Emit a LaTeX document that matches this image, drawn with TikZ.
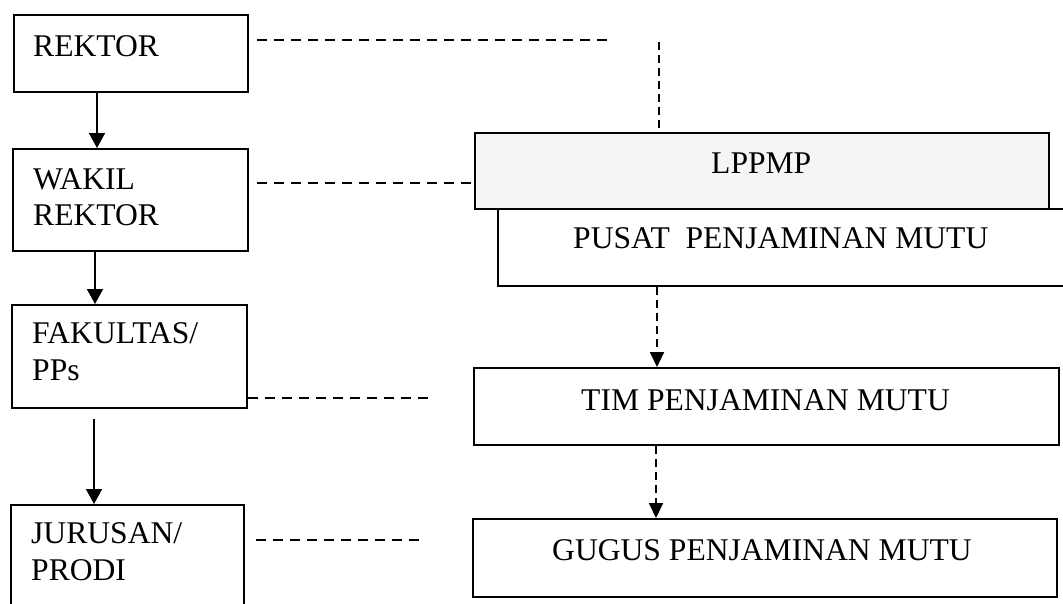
\documentclass[tikz,border=0pt]{standalone}
\usepackage{fontspec}
\setmainfont{Liberation Serif}
\usetikzlibrary{arrows.meta,calc}
\begin{document}
\begin{tikzpicture}[x=1pt,y=-1pt,
  box/.style={draw=black, line width=2.2pt, inner sep=0pt, anchor=north west},
  lbl/.style={inner sep=0pt, anchor=base west, font=\fontsize{31.6}{36.5}\selectfont},
  solidarr/.style={draw=black, line width=1.7pt, -{Triangle[width=16pt,length=15pt]}},
  hd/.style={draw=black, line width=2.6pt, dash pattern=on 10pt off 7pt},
  vd/.style={draw=black, line width=2.1pt, dash pattern=on 8pt off 5pt},
  dasharr/.style={vd, -{Triangle[width=14pt,length=15pt]}}
]
\useasboundingbox (0,0) rectangle (1063,603);
\clip (0,0) rectangle (1063,603);

% left column: university hierarchy
\node[box, minimum width=234pt, minimum height=77pt]  (rektor) at (13,14) {};
\node[box, minimum width=235pt, minimum height=102pt] (wakil)  at (12,148) {};
\node[box, minimum width=235pt, minimum height=103pt] (fak)    at (11,304) {};
\node[box, minimum width=233pt, minimum height=112pt] (jur)    at (10,504) {};

\node[lbl] (trektor) at (33,56)  {REKTOR};
\node[lbl] (twakil1) at (33,189) {WAKIL};
\node[lbl] (twakil2) at (33,225) {REKTOR};
\node[lbl] (tfak1)   at (32,343) {FAKULTAS/};
\node[lbl] (tfak2)   at (32,380) {PPs};
\node[lbl] (tjur1)   at (31,543) {JURUSAN/};
\node[lbl] (tjur2)   at (31,580) {PRODI};

% right column: quality assurance units
\node[box, minimum width=580pt, minimum height=77pt] (pusat) at (497,208) {};
\node[box, fill=black!4, minimum width=574pt, minimum height=76pt] (lppmp) at (474,132) {};
\node[box, minimum width=585pt, minimum height=77pt] (tim)   at (473,367) {};
\node[box, minimum width=584pt, minimum height=78pt] (gugus) at (472,518) {};

\node[lbl] (tlppmp) at (711,173) {LPPMP};
\node[lbl] (tpusat) at (573,248) {PUSAT\ \ PENJAMINAN MUTU};
\node[lbl] (ttim)   at (581,410) {TIM PENJAMINAN MUTU};
\node[lbl] (tgugus) at (552,560) {GUGUS PENJAMINAN MUTU};

% solid line of command
\coordinate (ca) at (97,0);
\coordinate (cb) at (95,0);
\coordinate (cc) at (94,0);
\draw[solidarr] (rektor.south -| ca) -- (wakil.north -| ca);
\draw[solidarr] (wakil.south -| cb) -- (fak.north -| cb);
\draw[solidarr, shorten <=10pt] (fak.south -| cc) -- (jur.north -| cc);

% dashed lines of coordination
\coordinate (r1) at (607,40);
\coordinate (v1) at (659,42);
\coordinate (w1) at (0,183);
\coordinate (f1) at (428,398);
\coordinate (j1) at (419,540);
\draw[hd, shorten <=8pt] (rektor.east |- r1) -- (r1);
\draw[vd] (v1) -- (v1 |- lppmp.north);
\draw[hd, shorten <=8pt] (wakil.east |- w1) -- (lppmp.west |- w1);
\draw[hd] (fak.east |- f1) -- (f1);
\draw[hd, shorten <=11pt] (jur.east |- j1) -- (j1);

% dashed arrows down the quality assurance chain
\coordinate (cd) at (657,0);
\coordinate (ce) at (656,0);
\draw[dasharr] (pusat.south -| cd) -- (tim.north -| cd);
\draw[dasharr] (tim.south -| ce) -- (gugus.north -| ce);
\end{tikzpicture}
\end{document}
